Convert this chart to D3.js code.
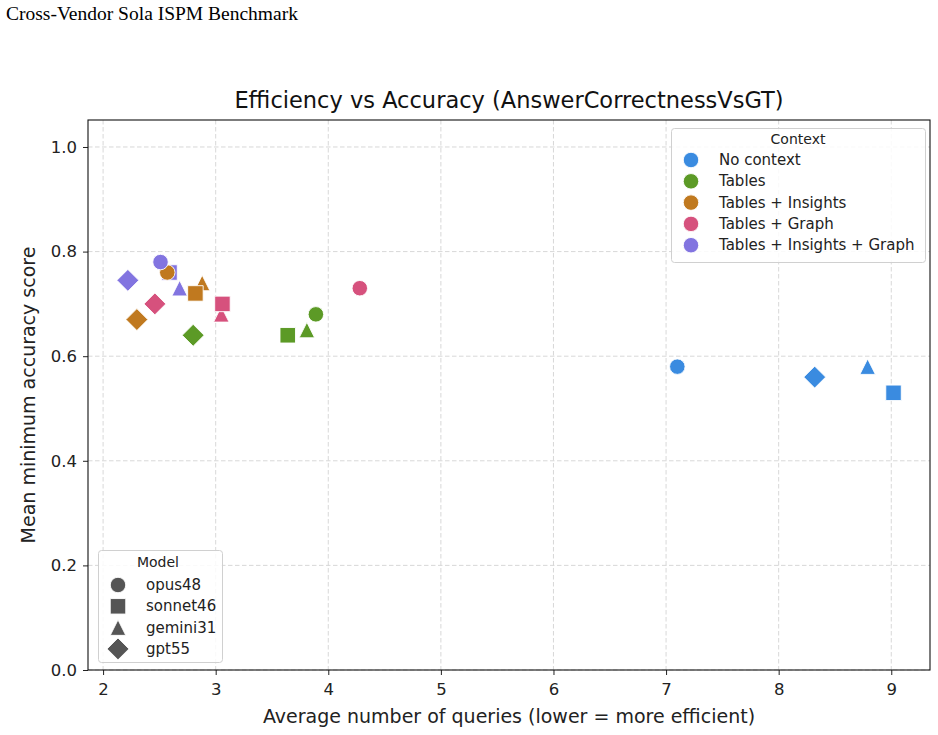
<!DOCTYPE html>
<html>
<head>
<meta charset="utf-8">
<script src="https://cdn.jsdelivr.net/npm/d3@7"></script>
<style>
  body { margin: 0; background: #fff; }
  svg { display: block; }
</style>
</head>
<body>
<svg id="chart" width="938" height="735"></svg>
<script>
// ---------- data ----------
const pageTitle = "Cross-Vendor Sola ISPM Benchmark";
const chartTitle = "Efficiency vs Accuracy (AnswerCorrectnessVsGT)";
const xLabel = "Average number of queries (lower = more efficient)";
const yLabel = "Mean minimum accuracy score";

const contexts = ["No context", "Tables", "Tables + Insights", "Tables + Graph", "Tables + Insights + Graph"];
const contextColors = ["#3a8be0", "#5c9a26", "#c0791f", "#d6517d", "#8274e0"];
const models = ["opus48", "sonnet46", "gemini31", "gpt55"];
const modelShapes = ["circle", "square", "triangle", "diamond"];

// rows: context, columns: model (opus48, sonnet46, gemini31, gpt55)
const avgQueries = [
  [7.10, 9.02, 8.79, 8.32],
  [3.89, 3.64, 3.81, 2.80],
  [2.57, 2.82, 2.88, 2.30],
  [4.28, 3.06, 3.05, 2.46],
  [2.51, 2.59, 2.68, 2.22]
];
const accuracy = [
  [0.58, 0.53, 0.58, 0.56],
  [0.68, 0.64, 0.65, 0.64],
  [0.76, 0.72, 0.74, 0.67],
  [0.73, 0.70, 0.68, 0.70],
  [0.78, 0.76, 0.73, 0.745]
];

const xTicks = [2, 3, 4, 5, 6, 7, 8, 9];
const yTicks = [0.0, 0.2, 0.4, 0.6, 0.8, 1.0];
const xDomain = [1.866, 9.344];
const yDomain = [0, 1.0516];

// ---------- layout ----------
const svg = d3.select("#chart");
const L = 88, R = 930, T = 120, B = 670;
const x = d3.scaleLinear().domain(xDomain).range([L, R]);
const y = d3.scaleLinear().domain(yDomain).range([B, T]);
const font = "'DejaVu Sans', sans-serif";

svg.append("text").attr("x", 6).attr("y", 20)
  .attr("font-family", "'Liberation Serif', 'Times New Roman', serif")
  .attr("font-size", 19.5).attr("fill", "#000").text(pageTitle);

svg.append("text").attr("x", (L + R) / 2).attr("y", 108)
  .attr("text-anchor", "middle").attr("font-family", font)
  .attr("font-size", 22.5).attr("fill", "#111").text(chartTitle);

// grid
const grid = svg.append("g");
grid.selectAll("line.gx").data(xTicks).join("line")
  .attr("x1", d => x(d)).attr("x2", d => x(d)).attr("y1", T).attr("y2", B)
  .attr("stroke", "#d4d4d4").attr("stroke-width", 0.9).attr("stroke-dasharray", "4.5,2.5");
grid.selectAll("line.gy").data(yTicks).join("line")
  .attr("y1", d => y(d)).attr("y2", d => y(d)).attr("x1", L).attr("x2", R)
  .attr("stroke", "#d4d4d4").attr("stroke-width", 0.9).attr("stroke-dasharray", "4.5,2.5");

// axes
const xAxis = d3.axisBottom(x).tickValues(xTicks).tickFormat(d3.format("d")).tickSize(5).tickPadding(8);
const yAxis = d3.axisLeft(y).tickValues(yTicks).tickFormat(d3.format(".1f")).tickSize(5).tickPadding(6);
const gx = svg.append("g").attr("transform", `translate(0,${B})`).call(xAxis);
const gy = svg.append("g").attr("transform", `translate(${L},0)`).call(yAxis);
[gx, gy].forEach(g => {
  g.select(".domain").remove();
  g.selectAll("text").attr("font-family", font).attr("font-size", 16.5).attr("fill", "#222");
  g.selectAll("line").attr("stroke", "#222").attr("stroke-width", 1);
});

// frame
svg.append("rect").attr("x", L).attr("y", T).attr("width", R - L).attr("height", B - T)
  .attr("fill", "none").attr("stroke", "#111").attr("stroke-width", 1.1);

svg.append("text").attr("x", (L + R) / 2).attr("y", 723)
  .attr("text-anchor", "middle").attr("font-family", font)
  .attr("font-size", 19).attr("fill", "#222").text(xLabel);
svg.append("text").attr("transform", `translate(35,${(T + B) / 2}) rotate(-90)`)
  .attr("text-anchor", "middle").attr("font-family", font)
  .attr("font-size", 19).attr("fill", "#222").text(yLabel);

// marker shapes
function shapePath(shape, s) {
  const h = s / 2;
  if (shape === "circle") return `M${h},0A${h},${h} 0 1,1 ${-h},0A${h},${h} 0 1,1 ${h},0Z`;
  if (shape === "square") return `M${-h},${-h}H${h}V${h}H${-h}Z`;
  if (shape === "triangle") return `M0,${-h}L${h},${h}L${-h},${h}Z`;
  const d = h * Math.SQRT2;
  return `M0,${-d}L${d},0L0,${d}L${-d},0Z`;
}

// points: drawn in model order gpt55, gemini31, sonnet46, opus48
const points = [];
[3, 2, 1, 0].forEach(mi => {
  contexts.forEach((c, ci) => {
    points.push({ ci, mi, xv: avgQueries[ci][mi], yv: accuracy[ci][mi] });
  });
});
svg.append("g").selectAll("path").data(points).join("path")
  .attr("transform", d => `translate(${x(d.xv)},${y(d.yv)})`)
  .attr("d", d => shapePath(modelShapes[d.mi], 15.5))
  .attr("fill", d => contextColors[d.ci])
  .attr("stroke", "#fff").attr("stroke-width", 0.9);

// Context legend
const lg1 = svg.append("g");
lg1.append("rect").attr("x", 671.5).attr("y", 128.5).attr("width", 254).attr("height", 134)
  .attr("rx", 3).attr("fill", "rgba(255,255,255,0.85)").attr("stroke", "#d0d0d0");
lg1.append("text").attr("x", 798).attr("y", 144).attr("text-anchor", "middle")
  .attr("font-family", font).attr("font-size", 14).attr("fill", "#222").text("Context");
contexts.forEach((c, i) => {
  const cy = 160 + i * 21.3;
  lg1.append("path").attr("transform", `translate(691,${cy})`)
    .attr("d", shapePath("circle", 15.5)).attr("fill", contextColors[i]).attr("stroke", "#fff").attr("stroke-width", 0.9);
  lg1.append("text").attr("x", 719).attr("y", cy + 5)
    .attr("font-family", font).attr("font-size", 15).attr("fill", "#222").text(c);
});

// Model legend
const lg2 = svg.append("g");
lg2.append("rect").attr("x", 98.5).attr("y", 550.5).attr("width", 124).attr("height", 112)
  .attr("rx", 3).attr("fill", "rgba(255,255,255,0.85)").attr("stroke", "#d0d0d0");
lg2.append("text").attr("x", 158).attr("y", 567).attr("text-anchor", "middle")
  .attr("font-family", font).attr("font-size", 14).attr("fill", "#222").text("Model");
models.forEach((m, i) => {
  const cy = 585 + i * 21.3;
  lg2.append("path").attr("transform", `translate(118,${cy})`)
    .attr("d", shapePath(modelShapes[i], 15.5)).attr("fill", "#555").attr("stroke", "#fff").attr("stroke-width", 0.9);
  lg2.append("text").attr("x", 146).attr("y", cy + 5)
    .attr("font-family", font).attr("font-size", 15).attr("fill", "#222").text(m);
});
</script>
</body>
</html>
